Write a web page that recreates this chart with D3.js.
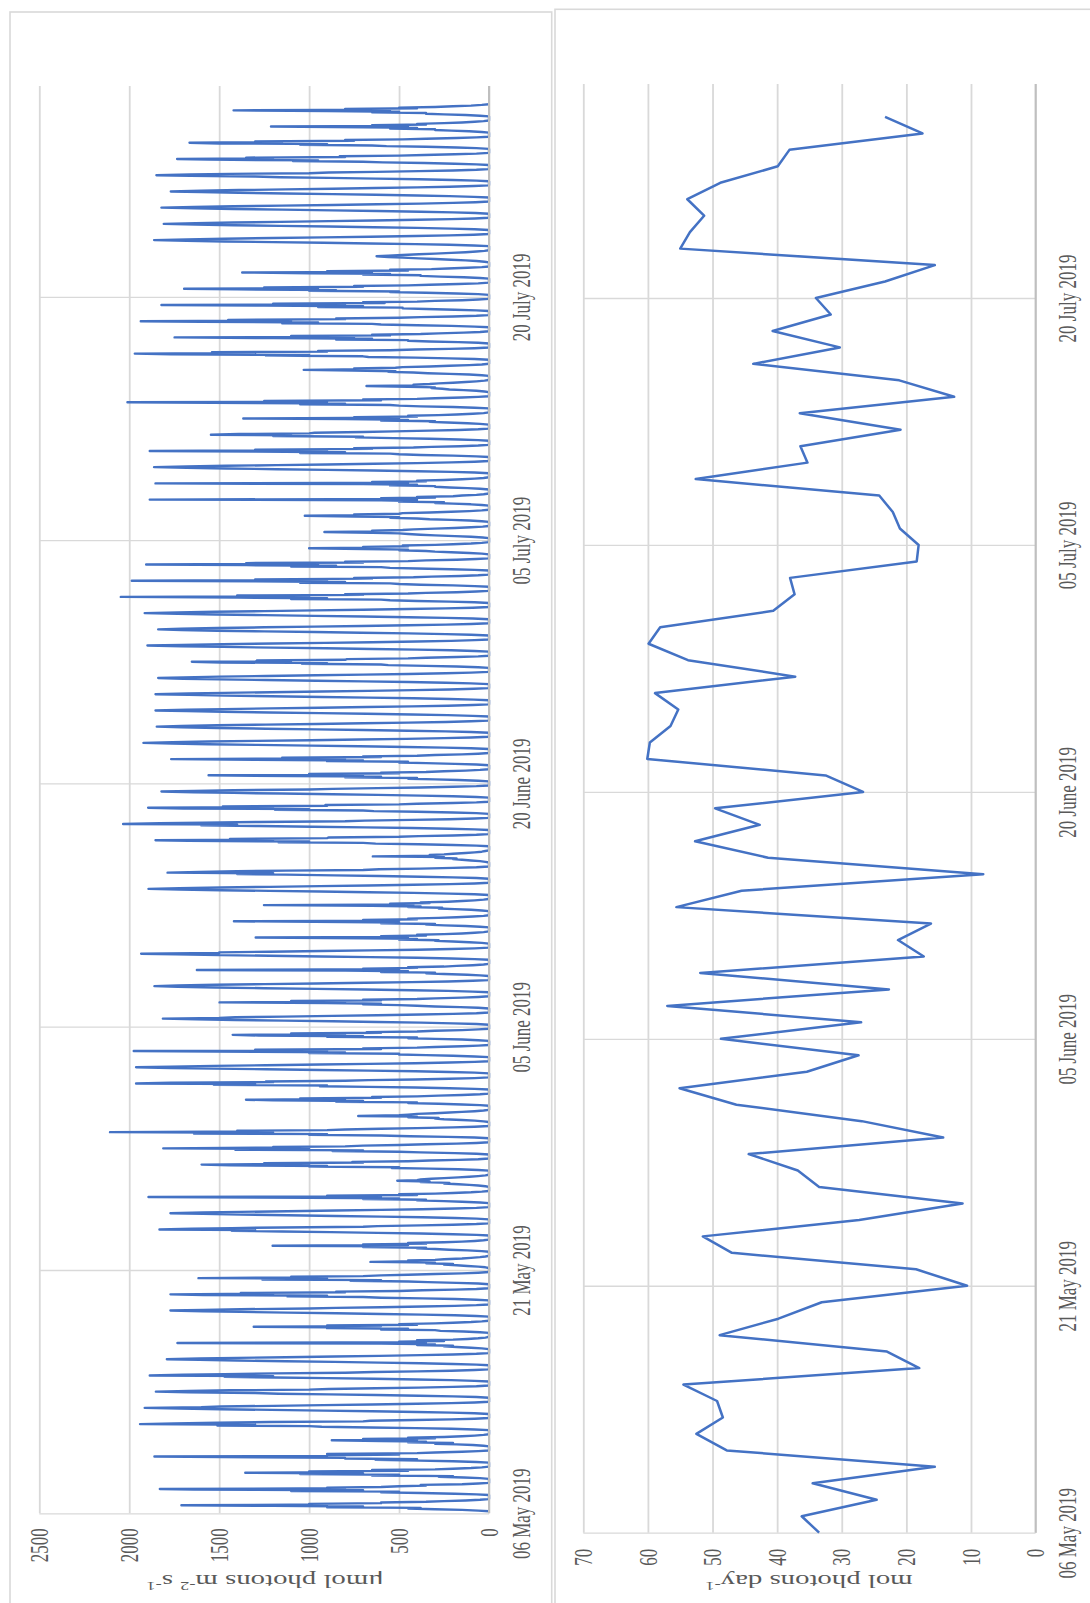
<!DOCTYPE html>
<html>
<head>
<meta charset="utf-8">
<script src="https://cdn.jsdelivr.net/npm/d3@7"></script>
<style>
  html, body { margin: 0; padding: 0; background: #ffffff; }
  svg { display: block; }
</style>
</head>
<body>
<div id="chart"></div>
<script>
// ---------------- DATA ----------------
const startDate = "2019-05-06";
const axisEndDate = "2019-08-02";
const dateTicks = ["2019-05-06", "2019-05-21", "2019-06-05", "2019-06-20", "2019-07-05", "2019-07-20"];
const parTicks = [0, 500, 1000, 1500, 2000, 2500];
const molTicks = [0, 10, 20, 30, 40, 50, 60, 70];

// hours of day at which PAR readings are given (local time)
const parHours = [3, 4, 5, 6, 7, 8, 9, 10, 11, 12, 13, 14, 15, 16, 17, 18, 19, 20, 21];

// PAR (µmol photons m-2 s-1), one row per day from 06 May 2019, one value per hour above
const parHourly = [
  [0,60,150,300,450,380,900,700,1200,1710,900,1000,600,600,350,250,130,50,0],
  [0,70,190,380,600,500,1100,700,1640,1830,800,900,600,500,350,380,150,60,0],
  [0,50,140,280,200,650,500,1050,700,1355,800,1000,450,650,300,200,100,40,0],
  [0,70,200,390,630,400,800,800,1300,1860,900,900,500,900,400,300,150,60,0],
  [0,30,90,180,300,200,450,350,600,874,400,700,300,450,250,150,80,30,0],
  [0,80,210,410,660,930,1000,1510,1300,1940,1750,1510,1220,700,660,410,210,80,0],
  [0,80,210,400,650,920,1210,1490,1720,1914,1600,1490,1200,920,650,400,210,80,0],
  [0,70,200,390,630,890,1170,1300,1670,1852,1670,1440,1000,890,630,390,200,70,0],
  [0,80,210,400,640,900,1190,1470,1200,1886,1700,1470,1190,800,640,400,210,80,0],
  [0,70,200,380,610,860,1130,1400,1610,1791,1610,1400,1130,860,610,380,200,70,0],
  [0,40,100,180,250,200,400,300,600,1732,350,500,250,400,200,120,60,20,0],
  [0,50,140,270,300,600,450,900,700,1308,600,900,400,500,300,200,100,40,0],
  [0,70,190,370,600,850,1120,1380,1590,1771,1590,1380,1000,850,600,370,190,70,0],
  [0,70,190,370,600,700,1120,900,1590,1771,1200,1380,800,850,500,370,190,70,0],
  [0,60,180,340,450,770,600,1260,900,1615,1000,1100,700,600,450,300,150,60,0],
  [0,20,60,120,180,250,200,350,300,659,400,450,300,250,150,100,50,20,0],
  [0,40,120,220,300,400,350,700,500,1203,450,700,350,450,250,150,80,30,0],
  [0,70,200,380,620,880,1150,1430,1300,1832,1650,1430,1150,700,620,380,200,70,0],
  [0,70,190,370,600,850,1120,1380,1590,1771,1590,1380,1120,850,600,370,190,70,0],
  [0,50,150,250,400,350,700,500,1000,1893,600,900,400,500,300,200,100,40,0],
  [0,20,60,110,170,250,220,380,330,510,400,380,320,250,170,110,60,20,0],
  [0,60,170,330,540,500,1000,900,1440,1598,1000,1250,700,760,450,330,170,60,0],
  [0,70,190,380,500,870,700,1410,1000,1811,1200,1200,800,700,500,350,180,70,0],
  [0,80,230,440,600,1000,900,1640,1200,2107,1300,1400,900,800,600,400,200,80,0],
  [0,30,80,150,250,300,280,450,400,727,500,450,400,300,220,150,80,30,0],
  [0,50,150,280,450,400,850,700,1200,1351,800,1050,600,650,400,280,150,50,0],
  [0,80,220,410,670,940,900,1530,1300,1962,1770,1200,1240,800,670,410,220,80,0],
  [0,80,220,410,670,940,1240,1530,1770,1962,1770,1530,1240,940,670,410,220,80,0],
  [0,80,200,350,500,500,1000,800,1300,1975,900,1300,600,700,400,300,150,60,0],
  [0,60,150,300,450,400,900,700,1280,1425,800,1100,600,680,400,300,150,60,0],
  [0,70,200,380,620,870,1140,1410,1630,1813,1500,1410,1140,870,620,380,200,70,0],
  [0,60,160,300,400,500,700,600,900,1498,800,1100,600,700,400,300,150,60,0],
  [0,90,230,430,690,960,1250,1520,1730,1860,1730,1520,1250,960,690,430,230,90,0],
  [0,50,120,250,350,300,600,450,800,1624,500,700,400,450,250,180,90,30,0],
  [0,80,210,400,660,930,1220,1500,1740,1934,1500,1500,1220,930,660,400,210,80,0],
  [0,40,110,200,300,280,500,400,700,1297,450,600,350,400,250,150,80,30,0],
  [0,50,130,250,350,300,600,500,800,1418,500,700,400,450,280,180,90,30,0],
  [0,40,100,190,280,260,450,380,650,1251,420,550,330,380,230,150,80,30,0],
  [0,80,220,420,670,940,1220,1490,1720,1893,1720,1490,1220,940,670,420,220,80,0],
  [0,70,200,380,610,860,1130,1400,1200,1787,1610,1400,1130,700,610,380,200,70,0],
  [0,20,50,100,150,200,180,300,250,646,300,330,250,200,130,80,40,20,0],
  [0,70,200,390,630,700,1170,1000,1670,1854,1200,1440,900,890,500,390,200,70,0],
  [0,80,220,430,690,980,1280,1600,1400,2034,1830,1590,1280,800,690,430,220,80,0],
  [0,70,200,400,640,700,1190,1000,1700,1895,1200,1480,900,910,500,400,200,70,0],
  [0,70,200,380,620,870,1150,1420,1640,1821,1640,1420,1000,870,620,380,200,70,0],
  [0,60,170,300,450,400,800,600,1100,1559,700,1000,500,600,350,250,130,50,0],
  [0,70,190,350,500,450,900,700,1300,1767,800,1150,600,700,400,300,150,60,0],
  [0,100,250,460,720,990,1290,1560,1760,1921,1760,1560,1290,990,720,460,250,100,0],
  [0,100,240,450,700,960,1240,1510,1710,1847,1710,1510,1240,960,700,450,240,100,0],
  [0,90,230,430,680,940,1220,1480,1680,1854,1680,1480,1220,940,680,430,230,90,0],
  [0,85,220,420,670,930,1210,1470,1670,1854,1670,1470,1210,930,670,420,220,85,0],
  [0,100,240,450,700,960,1240,1500,1700,1839,1700,1500,1240,960,700,450,240,100,0],
  [0,60,180,350,560,600,1040,900,1490,1652,1100,1290,800,790,450,350,180,60,0],
  [0,80,210,400,650,910,1200,1480,1710,1899,1710,1480,1200,910,650,400,210,80,0],
  [0,100,240,450,710,970,1250,1510,1710,1839,1710,1510,1250,970,710,450,240,100,0],
  [0,90,240,450,700,970,1250,1520,1730,1914,1730,1520,1250,970,700,450,240,90,0],
  [0,80,220,400,550,600,1100,900,1400,2047,1000,1400,700,800,450,350,180,70,0],
  [0,80,200,380,500,550,1050,800,1300,1986,900,1300,650,750,420,320,160,60,0],
  [0,80,210,400,550,600,1100,850,1350,1906,950,1350,700,800,450,350,180,70,0],
  [0,40,110,210,300,350,500,450,700,1000,650,700,450,480,300,200,100,40,0],
  [0,35,100,190,300,380,450,500,650,915,600,650,480,420,300,190,100,35,0],
  [0,40,110,210,330,400,550,500,750,1024,700,750,500,480,330,210,110,40,0],
  [0,40,100,200,300,250,500,400,600,1886,400,600,300,400,200,150,70,30,0],
  [0,50,120,220,300,300,550,400,700,1854,450,650,350,400,250,150,80,30,0],
  [0,80,210,400,640,900,1180,1460,1680,1862,1680,1460,1180,900,640,400,210,80,0],
  [0,70,200,380,500,550,1050,800,1300,1886,900,1300,650,750,420,320,160,60,0],
  [0,60,170,330,530,740,700,1200,1100,1546,1390,1000,970,700,530,330,170,60,0],
  [0,50,120,230,330,300,600,450,800,1366,500,750,400,450,280,180,90,30,0],
  [0,80,200,380,500,550,1050,800,1300,2010,900,1250,600,700,400,300,150,60,0],
  [0,25,70,140,220,260,320,300,450,681,400,420,330,280,200,130,70,25,0],
  [0,40,110,220,340,420,560,520,760,1030,700,750,520,480,330,220,110,40,0],
  [0,80,220,410,670,700,1240,1000,1770,1969,1300,1540,900,950,550,410,220,80,0],
  [0,60,170,330,450,450,850,650,1200,1748,750,1100,550,650,380,280,140,50,0],
  [0,80,210,400,600,650,1150,950,1600,1936,1100,1450,800,850,500,380,200,70,0],
  [0,70,190,350,480,480,950,700,1250,1821,800,1200,580,700,400,300,150,60,0],
  [0,60,180,350,550,500,1000,850,1400,1695,950,1250,700,750,450,330,170,60,0],
  [0,50,140,270,380,380,700,550,1000,1372,650,900,450,550,320,230,120,40,0],
  [0,25,70,130,210,300,390,480,560,625,560,480,390,300,210,130,70,25,0],
  [0,85,220,410,660,920,1200,1470,1680,1862,1680,1470,1200,920,660,410,220,85,0],
  [0,80,210,400,640,890,1160,1420,1630,1808,1630,1420,1160,890,640,400,210,80,0],
  [0,75,200,380,620,870,1150,1420,1640,1821,1640,1420,1150,870,620,380,200,75,0],
  [0,85,220,400,630,870,1130,1390,1600,1769,1600,1390,1130,870,630,400,220,85,0],
  [0,70,200,390,630,890,1160,1300,1660,1849,1660,1440,1000,890,630,390,200,70,0],
  [0,70,190,360,590,700,1090,950,1560,1734,1200,1350,800,830,500,360,190,70,0],
  [0,70,180,350,570,650,1050,900,1500,1665,1150,1300,750,800,480,350,180,70,0],
  [0,40,110,210,300,300,550,400,700,1212,450,650,350,400,250,150,80,30,0],
  [0,50,130,250,350,350,650,500,900,1420,550,800,400,500,300,200,100,40,0]
];

// Daily light integral (mol photons day-1), one value per day from 06 May 2019
const dailyMol = [
  33.5, 36.2, 24.6, 34.5, 15.6, 47.8, 52.5, 48.4, 49.3, 54.5,
  18.0, 23.0, 48.9, 39.8, 33.1, 10.6, 18.5, 47.0, 51.5, 27.3,
  11.3, 33.5, 36.8, 44.4, 14.3, 26.9, 46.3, 55.1, 35.4, 27.4,
  48.7, 27.0, 57.0, 22.7, 51.9, 17.3, 21.3, 16.2, 55.6, 45.5,
  8.1, 41.4, 52.7, 42.7, 49.6, 26.7, 32.5, 60.1, 59.7, 56.5,
  55.3, 58.9, 37.2, 53.8, 59.9, 58.1, 40.6, 37.3, 38.0, 18.4,
  18.1, 21.0, 22.1, 24.2, 52.6, 35.3, 36.4, 20.9, 36.5, 12.6,
  21.1, 43.7, 30.3, 40.7, 31.7, 34.0, 23.3, 15.6, 55.0, 53.5,
  51.3, 53.9, 48.8, 39.9, 38.1, 17.5, 23.3
];

const parTitle = ["μmol photons m", "-2", " s", "-1"];
const molTitle = ["mol photons day", "-1"];

// ---------------- DRAW ----------------
const W = 1090, H = 1603;
const FONT = "'Liberation Serif', 'Times New Roman', serif";
const TXT = "#595959";
const GRID = "#d9d9d9";
const LINE = "#4472C4";
const STRETCH = 1.45;
const TITLE_STRETCH = 1.6;

const parseDay = d3.timeParse("%Y-%m-%d");
const t0 = parseDay(startDate), t1 = parseDay(axisEndDate);
const tickDates = dateTicks.map(parseDay);
const fmtDate = d3.timeFormat("%d %B %Y");

const svg = d3.select("#chart").append("svg")
  .attr("width", W).attr("height", H)
  .style("background", "#fff");

// panel frames
svg.append("rect").attr("x", 10).attr("y", 12).attr("width", 541.7).attr("height", 1640)
  .attr("fill", "none").attr("stroke", GRID).attr("stroke-width", 1.6);
svg.append("rect").attr("x", 555).attr("y", 9.3).attr("width", 600).attr("height", 1640)
  .attr("fill", "none").attr("stroke", GRID).attr("stroke-width", 1.6);

// series
const parSeries = [];
parHourly.forEach((row, i) => {
  const day = d3.timeDay.offset(t0, i);
  row.forEach((v, j) => parSeries.push({ t: d3.timeHour.offset(day, parHours[j]), v: v }));
});
const molSeries = dailyMol.map((v, i) => ({ t: d3.timeDay.offset(t0, i), v: v }));

function panel(cfg) {
  const { xs, ys, valTicks, top, bottom, zeroX, leftX, gap, dateX, title, titleX, titleY, series, lw } = cfg;
  const g = svg.append("g");

  // value gridlines + labels
  const gv = g.append("g").attr("transform", `translate(0,${top})`)
    .call(d3.axisBottom(xs).tickValues(valTicks).tickSize(bottom - top).tickSizeOuter(0).tickFormat(d3.format("d")));
  gv.select(".domain").remove();
  gv.attr("font-family", FONT).attr("font-size", 17);
  gv.selectAll("line").attr("stroke", GRID).attr("stroke-width", 1.8);
  gv.selectAll("text")
    .attr("y", null).attr("dy", null).attr("x", null)
    .attr("fill", TXT)
    .attr("text-anchor", "end")
    .attr("dominant-baseline", "central")
    .attr("transform", `translate(0,${bottom - top + gap}) rotate(-90) scale(1,${STRETCH})`);

  // date gridlines + labels
  const gd = g.append("g").attr("transform", `translate(${zeroX},0)`)
    .call(d3.axisLeft(ys).tickValues(tickDates).tickSize(zeroX - leftX).tickSizeOuter(0).tickFormat(fmtDate));
  gd.select(".domain").remove();
  gd.attr("font-family", FONT).attr("font-size", 17);
  gd.selectAll("line").attr("stroke", GRID).attr("stroke-width", 1.3);
  gd.selectAll("text")
    .attr("x", null).attr("dy", null).attr("y", null)
    .attr("fill", TXT)
    .attr("text-anchor", "middle")
    .attr("dominant-baseline", "central")
    .attr("transform", `translate(${dateX},0) rotate(-90) scale(1,${STRETCH})`);

  // data line
  const line = d3.line().x(d => xs(d.v)).y(d => ys(d.t));
  g.append("path").datum(series)
    .attr("d", line)
    .attr("fill", "none").attr("stroke", LINE)
    .attr("stroke-width", lw).attr("stroke-linejoin", "round");

  // zero axis line
  g.append("line")
    .attr("x1", xs(0)).attr("x2", xs(0)).attr("y1", top).attr("y2", bottom)
    .attr("stroke", "#bfbfbf").attr("stroke-width", 2);

  // axis title (upside down, stretched)
  const tt = g.append("text")
    .attr("font-family", FONT).attr("font-size", 18).attr("fill", TXT)
    .attr("text-anchor", "middle")
    .attr("transform", `translate(${titleX},${titleY}) rotate(180) scale(${TITLE_STRETCH},1)`);
  title.forEach((s, k) => {
    const sup = k % 2 === 1;
    tt.append("tspan")
      .attr("font-size", sup ? 11.5 : 18)
      .attr("dy", k === 0 ? 5 : (sup ? -7 : 7))
      .text(s);
  });
}

const xL = d3.scaleLinear().domain([0, 2500]).range([489, 39.3]);
const yL = d3.scaleTime().domain([t0, t1]).range([1513.3, 86]);
panel({ xs: xL, ys: yL, valTicks: parTicks, top: 86, bottom: 1513.3, zeroX: 489, leftX: 39.3,
  gap: 15, dateX: 33, title: parTitle, titleX: 265, titleY: 1580, series: parSeries, lw: 2.4 });

const xR = d3.scaleLinear().domain([0, 70]).range([1035.6, 583.3]);
const yR = d3.scaleTime().domain([t0, t1]).range([1532.7, 84]);
panel({ xs: xR, ys: yR, valTicks: molTicks, top: 84, bottom: 1532.7, zeroX: 1035.6, leftX: 583.3,
  gap: 16, dateX: 32, title: molTitle, titleX: 809, titleY: 1580, series: molSeries, lw: 2.5 });
</script>
</body>
</html>
